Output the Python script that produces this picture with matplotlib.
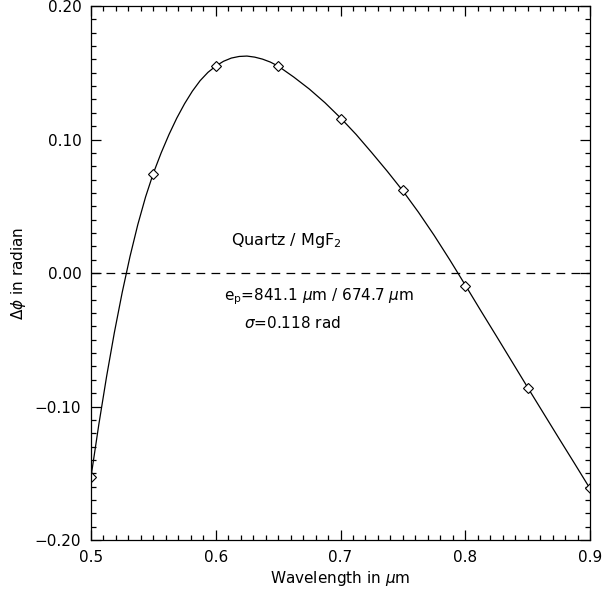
import numpy as np
import matplotlib
matplotlib.use('Agg')
import matplotlib.pyplot as plt
from matplotlib.ticker import MultipleLocator, FuncFormatter

# measured points (diamonds)
wave_pts = [0.50, 0.55, 0.60, 0.65, 0.70, 0.75, 0.80, 0.85, 0.90]
dphi_pts = [-0.153, 0.074, 0.155, 0.155, 0.115, 0.062, -0.010, -0.086, -0.161]

# fitted curve (denser where it bends)
wave_curve = [0.5, 0.50625, 0.5125, 0.51875, 0.525, 0.53125, 0.5375, 0.54375,
              0.55, 0.55625, 0.5625, 0.56875, 0.575, 0.58125, 0.5875, 0.59375,
              0.6, 0.60625, 0.6125, 0.61875, 0.625, 0.63125, 0.6375, 0.64375,
              0.65, 0.6625, 0.675, 0.6875, 0.7, 0.7125, 0.725, 0.7375,
              0.75, 0.7625, 0.775, 0.7875, 0.8, 0.8125, 0.825, 0.8375,
              0.85, 0.8625, 0.875, 0.8875, 0.9]
dphi_curve = [-0.1527, -0.1136, -0.0775, -0.0445, -0.0146, 0.0123, 0.0362, 0.0570,
              0.0748, 0.0900, 0.1037, 0.1160, 0.1268, 0.1362, 0.1441, 0.1503,
              0.1550, 0.1586, 0.1610, 0.1622, 0.1625, 0.1617, 0.1602, 0.1580,
              0.1550, 0.1468, 0.1378, 0.1276, 0.1162, 0.1038, 0.0902, 0.0762,
              0.0615, 0.0455, 0.0283, 0.0100, -0.0090, -0.0283, -0.0473, -0.0665,
              -0.0857, -0.1047, -0.1237, -0.1425, -0.1615]

plt.rcParams['font.family'] = ['DejaVu Sans']
plt.rcParams['mathtext.fontset'] = 'dejavusans'


def fmt(ndig):
    def f(v, pos):
        s = f'{v:.{ndig}f}'
        if s.strip('-0.') == '':
            s = s.lstrip('-')
        return s.replace('-', '\u2212')
    return FuncFormatter(f)


fig = plt.figure(figsize=(6.02, 5.92), dpi=100)
ax = fig.add_axes([91 / 602, 52 / 592, 499 / 602, 534 / 592])

ax.plot(wave_curve, dphi_curve, color='black', lw=0.9)
ax.plot(wave_pts, dphi_pts, linestyle='none', marker='D', ms=5,
        mfc='white', mec='black', mew=0.8)
ax.axhline(0.0, color='black', lw=0.9, linestyle=(0, (7, 5)))

ax.set_xlim(0.5, 0.9)
ax.set_ylim(-0.2, 0.2)
ax.xaxis.set_major_locator(MultipleLocator(0.1))
ax.xaxis.set_minor_locator(MultipleLocator(0.01))
ax.yaxis.set_major_locator(MultipleLocator(0.1))
ax.yaxis.set_minor_locator(MultipleLocator(0.01))
ax.xaxis.set_major_formatter(fmt(1))
ax.yaxis.set_major_formatter(fmt(2))
ax.tick_params(which='both', direction='in', top=True, right=True,
               labelsize=11, width=0.9)
ax.tick_params(which='major', length=7, pad=7)
ax.tick_params(which='minor', length=3.5)
for s in ax.spines.values():
    s.set_linewidth(0.9)

ax.set_xlabel(r'Wavelength in $\mu$m', fontsize=11, labelpad=3)
ax.set_ylabel(r'$\Delta\phi$ in radian', fontsize=11, labelpad=5)

ax.text(0.6563, 0.0247, r'Quartz / MgF$_2$', fontsize=11.5, ha='center', va='center')
ax.text(0.607, -0.018, r'e$_\mathrm{p}$=841.1 $\mu$m / 674.7 $\mu$m',
        fontsize=11, ha='left', va='center')
ax.text(0.623, -0.0375, r'$\sigma$=0.118 rad', fontsize=11, ha='left', va='center')

fig.savefig('out.png', dpi=100)
